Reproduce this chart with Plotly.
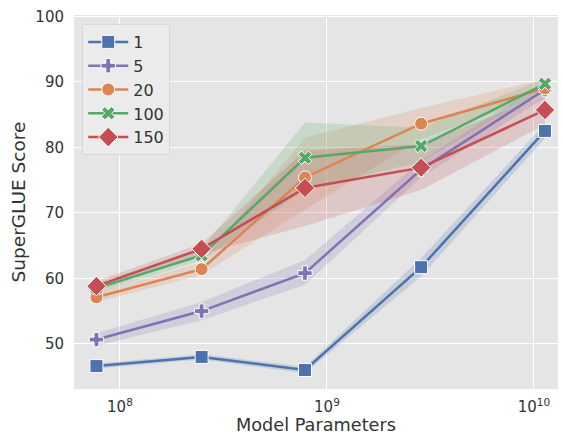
import plotly.graph_objects as go

params = [7.7e7, 2.48e8, 7.83e8, 2.85e9, 1.13e10]
lengths = ["1", "5", "20", "100", "150"]

score_1 = [46.6, 48.0, 46.0, 61.7, 82.5]
low_1 = [46.2, 47.6, 45.5, 60.3, 81.4]
high_1 = [47.0, 48.4, 46.5, 63.1, 83.6]

score_5 = [50.65, 55.0, 60.8, 76.6, 88.8]
low_5 = [49.7, 53.6, 59.0, 75.4, 87.6]
high_5 = [51.6, 56.4, 62.8, 78.0, 90.0]

score_20 = [57.1, 61.4, 75.4, 83.6, 89.0]
low_20 = [56.4, 60.5, 70.5, 81.3, 88.0]
high_20 = [57.8, 62.4, 81.5, 86.0, 90.4]

score_100 = [58.5, 63.5, 78.4, 80.2, 89.7]
low_100 = [57.7, 62.7, 73.5, 77.8, 88.8]
high_100 = [59.3, 64.5, 83.8, 83.0, 90.5]

score_150 = [58.8, 64.5, 73.8, 76.9, 85.7]
low_150 = [58.0, 63.7, 68.0, 73.5, 83.5]
high_150 = [59.6, 65.3, 79.5, 80.5, 88.0]

colors = ["#4C72B0", "#8172B3", "#DD8452", "#55A868", "#C44E52"]
band_colors = ["rgba(76,114,176,0.2)", "rgba(129,114,179,0.2)", "rgba(221,132,82,0.2)",
               "rgba(85,168,104,0.2)", "rgba(196,78,82,0.2)"]
symbols = ["square", "cross", "circle", "x", "diamond"]
sizes = [13, 12, 13, 12, 15]

series = [
    (score_1, low_1, high_1),
    (score_5, low_5, high_5),
    (score_20, low_20, high_20),
    (score_100, low_100, high_100),
    (score_150, low_150, high_150),
]

fig = go.Figure()

for i, (s, lo, hi) in enumerate(series):
    fig.add_trace(go.Scatter(
        x=params + params[::-1], y=hi + lo[::-1],
        fill="toself", fillcolor=band_colors[i],
        line=dict(width=0), mode="lines", hoverinfo="skip", showlegend=False))

for i, (s, lo, hi) in enumerate(series):
    fig.add_trace(go.Scatter(
        x=params, y=s, name=lengths[i], mode="lines+markers",
        line=dict(color=colors[i], width=2.5),
        marker=dict(symbol=symbols[i], size=sizes[i], color=colors[i],
                    line=dict(color="white", width=1))))

fig.update_layout(
    width=562, height=435,
    margin=dict(l=74, r=4, t=15, b=46),
    paper_bgcolor="white", plot_bgcolor="#E5E5E5",
    font=dict(family="DejaVu Sans", size=15, color="#333333"),
    showlegend=True,
    legend=dict(x=0.017, y=0.976, xanchor="left", yanchor="top",
                bgcolor="rgba(235,235,235,0.9)", bordercolor="#D8D8D8", borderwidth=1,
                font=dict(size=16, color="#333333"), itemwidth=40, tracegroupgap=0),
    xaxis=dict(type="log", range=[7.778, 10.116], automargin=False,
               tickvals=[1e8, 1e9, 1e10],
               ticktext=["10<sup>8</sup>", "10<sup>9</sup>", "10<sup>10</sup>"],
               showgrid=True, gridcolor="white", gridwidth=1.2, zeroline=False,
               ticks="", showline=False, ticklabelstandoff=7,
               title=dict(text="Model Parameters", font=dict(size=17.7), standoff=2)),
    yaxis=dict(range=[43.1, 100.2], tickvals=[50, 60, 70, 80, 90, 100], automargin=False,
               showgrid=True, gridcolor="white", gridwidth=1.2, zeroline=False,
               ticks="", showline=False, ticklabelstandoff=9,
               title=dict(text="SuperGLUE Score", font=dict(size=18.5), standoff=4)),
)

fig.write_html("out.html", config={"displayModeBar": False},
               post_script="document.body.style.margin='0';")
